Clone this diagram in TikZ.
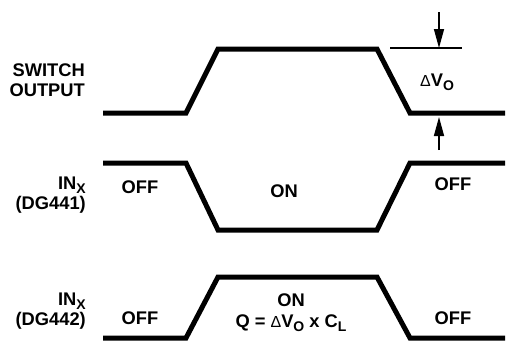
\documentclass[tikz,border=0pt]{standalone}
\usepackage{fontspec}
\setmainfont{Liberation Sans}
\usetikzlibrary{arrows.meta}
\newcommand{\subs}[1]{\raisebox{-0.45ex}{\fontsize{14}{14}\selectfont #1}}
\newcommand{\dlt}{{\mdseries\fontsize{16}{16}\selectfont Δ}}

\begin{document}
\begin{tikzpicture}[x=1pt, y=-1pt,
  lbl/.style={font=\fontsize{18.3}{20.5}\selectfont\bfseries, inner sep=0pt},
  wave/.style={line width=5pt, line join=miter},
  dim/.style={line width=1.5pt}]
\useasboundingbox (0,0) rectangle (507,341);

\node (swlbl) [lbl, anchor=east, align=right] at (85,80) {SWITCH\\OUTPUT};
\node (inalbl) [lbl, anchor=east, align=right] at (86,195) {IN\subs{X}\\(DG441)};
\node (inblbl) [lbl, anchor=east, align=right] at (86,311) {IN\subs{X}\\(DG442)};

\draw[wave] (103,113) -- (186,113) -- (218,49) -- (377,49) -- (410,113) -- (505,113);
\draw[wave] (103,163) -- (186,163) -- (218,230) -- (377,230) -- (410,163) -- (505,163);
\draw[wave] (103,338) -- (186,338) -- (218,277) -- (377,277) -- (410,338) -- (505,338);

\node (offa1) [lbl] at (140,187) {OFF};
\node (ona) [lbl] at (284,191) {ON};
\node (offa2) [lbl] at (453,184) {OFF};
\node (offb1) [lbl] at (140,318) {OFF};
\node (onb) [lbl, align=center] at (291,313) {ON\\Q = \dlt V\subs{O} x C\subs{L}};
\node (offb2) [lbl] at (453,318) {OFF};
\node (dvlbl) [lbl] at (437,82) {\dlt V\subs{O}};

\coordinate (tickl) at (390,48);
\coordinate (tickr) at (462,48);
\coordinate (dtop) at (439,12);
\coordinate (dtip) at (439,48);
\coordinate (ubot) at (439,150);
\coordinate (utip) at (439,117);
\draw[dim] (tickl) -- (tickr);
\draw[dim, -{Triangle[length=19pt, width=10pt]}] (dtop) -- (dtip);
\draw[dim, -{Triangle[length=19pt, width=10pt]}] (ubot) -- (utip);
\end{tikzpicture}
\end{document}
